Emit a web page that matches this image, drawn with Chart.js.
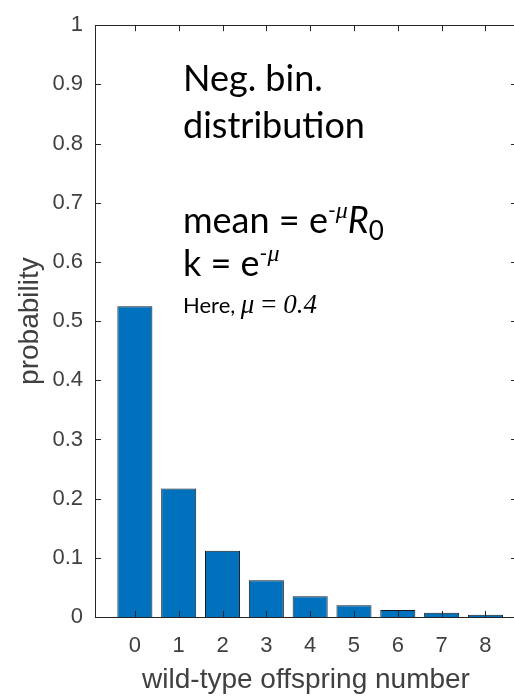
<!DOCTYPE html>
<html>
<head>
<meta charset="utf-8">
<script src="https://cdn.jsdelivr.net/npm/chart.js@4.4.1/dist/chart.umd.min.js"></script>
<style>
  html, body { margin: 0; padding: 0; background: #ffffff; overflow: hidden; width: 514px; height: 698px; }
  #wrap { position: relative; width: 540px; height: 698px; }
  canvas { display: block; }
</style>
</head>
<body>
<div id="wrap"><canvas id="chart" width="540" height="698"></canvas></div>
<script>
// Offspring counts on the x axis and their probabilities
const offspring = [0, 1, 2, 3, 4, 5, 6, 7, 8];
const probability = [0.525, 0.217, 0.112, 0.062, 0.035, 0.020, 0.012, 0.007, 0.004];
const yTickValues = [0, 0.1, 0.2, 0.3, 0.4, 0.5, 0.6, 0.7, 0.8, 0.9, 1];
const xTitle = 'wild-type offspring number';
const yTitle = 'probability';

const axisColor = '#262626';
const labelColor = '#404040';
const tickFont = { family: '"Liberation Sans", Arial, sans-serif', size: 22 };
const titleFont = { family: '"Liberation Sans", Arial, sans-serif', size: 28 };

// Box around the plot area with short inward tick marks on all four sides
const boxAxes = {
  id: 'boxAxes',
  afterDatasetsDraw(chart) {
    const { ctx, chartArea: a, scales: { x, y } } = chart;
    const len = 6;
    ctx.save();
    ctx.strokeStyle = axisColor;
    ctx.lineWidth = 1;
    ctx.beginPath();
    ctx.rect(Math.round(a.left) + 0.5, Math.round(a.top) + 0.5,
             Math.round(a.right - a.left), Math.round(a.bottom - a.top));
    x.ticks.forEach(t => {
      const px = Math.round(x.getPixelForValue(t.value)) + 0.5;
      ctx.moveTo(px, a.bottom); ctx.lineTo(px, a.bottom - len);
      ctx.moveTo(px, a.top); ctx.lineTo(px, a.top + len);
    });
    y.ticks.forEach(t => {
      const py = Math.round(y.getPixelForValue(t.value)) + 0.5;
      ctx.moveTo(a.left, py); ctx.lineTo(a.left + len, py);
      ctx.moveTo(a.right, py); ctx.lineTo(a.right - len, py);
    });
    ctx.stroke();
    ctx.restore();
  }
};

// Text block describing the distribution, drawn as runs with super/subscripts
const sans = 'Lato, "Open Sans", sans-serif';
const serif = '"Liberation Serif", "Times New Roman", serif';
const noteLines = [
  { baseline: 91, runs: [{ t: 'Neg. bin.', f: `36px ${sans}` }] },
  { baseline: 138, runs: [{ t: 'distribution', f: `36px ${sans}` }] },
  { baseline: 233, runs: [
      { t: 'mean = e', f: `36px ${sans}` },
      { t: '-', f: `21px ${sans}`, dy: -15 },
      { t: 'μ', f: `italic 24px ${serif}`, dy: -15 },
      { t: 'R', f: `italic 36px ${sans}` },
      { t: '0', f: `26px ${sans}`, dy: 7 } ] },
  { baseline: 276, runs: [
      { t: 'k = e', f: `36px ${sans}` },
      { t: '-', f: `21px ${sans}`, dy: -15 },
      { t: 'μ', f: `italic 24px ${serif}`, dy: -15 } ] },
  { baseline: 313, runs: [
      { t: 'Here, ', f: `22px ${sans}` },
      { t: 'μ', f: `italic 27px ${serif}` },
      { t: ' = ', f: `27px ${serif}` },
      { t: '0.4', f: `italic 27px ${serif}` } ] }
];
const noteText = {
  id: 'noteText',
  afterDraw(chart) {
    const ctx = chart.ctx;
    ctx.save();
    ctx.fillStyle = '#000000';
    ctx.textBaseline = 'alphabetic';
    ctx.textAlign = 'left';
    noteLines.forEach(line => {
      let xPos = 183;
      line.runs.forEach(r => {
        ctx.font = r.f;
        ctx.fillText(r.t, xPos, line.baseline + (r.dy || 0));
        xPos += ctx.measureText(r.t).width;
      });
    });
    ctx.restore();
  }
};

new Chart(document.getElementById('chart'), {
  type: 'bar',
  data: {
    datasets: [{
      data: offspring.map((v, i) => ({ x: v, y: probability[i] })),
      backgroundColor: '#0072BD',
      borderColor: '#1a1a1a',
      borderWidth: 1,
      barPercentage: 0.8,
      categoryPercentage: 1.0
    }]
  },
  options: {
    responsive: false,
    animation: false,
    events: [],
    layout: { padding: { top: 20, right: 23, left: 0, bottom: 0 } },
    plugins: { legend: { display: false }, tooltip: { enabled: false } },
    scales: {
      x: {
        type: 'linear',
        offset: false,
        min: -0.91,
        max: 8.72,
        grid: { display: false, drawTicks: false, offset: false },
        border: { display: false },
        afterBuildTicks: s => { s.ticks = offspring.map(v => ({ value: v })); },
        afterFit: s => { s.height = 81; },
        ticks: { color: labelColor, font: tickFont, padding: 16, maxRotation: 0, autoSkip: false },
        title: { display: true, text: xTitle, color: labelColor, font: titleFont, padding: { top: 0, bottom: 1 } }
      },
      y: {
        min: 0,
        max: 1,
        grid: { display: false, drawTicks: false },
        border: { display: false },
        afterBuildTicks: s => { s.ticks = yTickValues.map(v => ({ value: v })); },
        afterFit: s => { s.width = 95; },
        ticks: {
          color: labelColor, font: tickFont, padding: 12,
          callback: v => String(Number(v.toFixed(1)))
        },
        title: { display: true, text: yTitle, color: labelColor, font: titleFont, padding: { top: 13, bottom: 0 } }
      }
    }
  },
  plugins: [boxAxes, noteText]
});
</script>
</body>
</html>
